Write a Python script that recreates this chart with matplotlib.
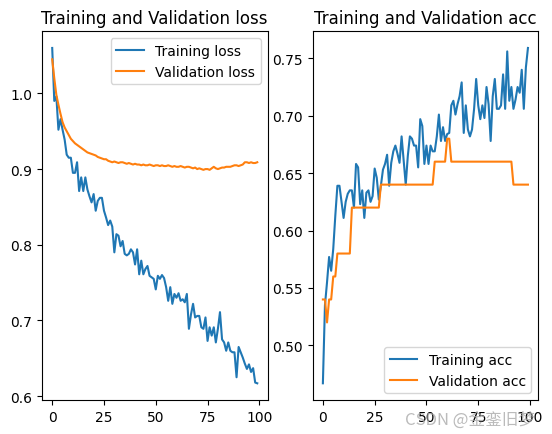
import numpy as np
import matplotlib
matplotlib.use("Agg")
import matplotlib.pyplot as plt

# per-epoch history
train_loss = [1.060, 0.990, 0.996, 0.952, 0.966, 0.952, 0.939, 0.919, 0.915, 0.915,
              0.895, 0.895, 0.909, 0.871, 0.889, 0.871, 0.889, 0.873, 0.864, 0.856,
              0.867, 0.845, 0.858, 0.862, 0.862, 0.845, 0.836, 0.826, 0.832, 0.824,
              0.790, 0.814, 0.812, 0.798, 0.805, 0.788, 0.786, 0.788, 0.794, 0.790,
              0.774, 0.794, 0.761, 0.779, 0.761, 0.768, 0.772, 0.759, 0.757, 0.755,
              0.741, 0.759, 0.755, 0.760, 0.756, 0.744, 0.726, 0.744, 0.722, 0.735,
              0.730, 0.736, 0.726, 0.728, 0.724, 0.735, 0.689, 0.708, 0.722, 0.704,
              0.706, 0.706, 0.691, 0.689, 0.704, 0.673, 0.691, 0.680, 0.691, 0.671,
              0.689, 0.711, 0.675, 0.671, 0.660, 0.671, 0.660, 0.658, 0.658, 0.625,
              0.665, 0.658, 0.651, 0.643, 0.636, 0.642, 0.632, 0.637, 0.618, 0.617]
val_loss = [1.045, 1.020, 0.998, 0.985, 0.973, 0.962, 0.955, 0.950, 0.945, 0.940,
            0.937, 0.934, 0.932, 0.930, 0.928, 0.926, 0.924, 0.922, 0.921, 0.920,
            0.919, 0.918, 0.916, 0.915, 0.914, 0.913, 0.913, 0.911, 0.910, 0.909,
            0.910, 0.909, 0.908, 0.909, 0.909, 0.908, 0.907, 0.908, 0.907, 0.906,
            0.907, 0.906, 0.906, 0.905, 0.906, 0.905, 0.905, 0.906, 0.905, 0.904,
            0.905, 0.905, 0.904, 0.905, 0.904, 0.904, 0.905, 0.904, 0.903, 0.904,
            0.903, 0.903, 0.904, 0.903, 0.902, 0.903, 0.903, 0.902, 0.901, 0.902,
            0.900, 0.901, 0.900, 0.899, 0.900, 0.900, 0.899, 0.901, 0.903, 0.901,
            0.900, 0.901, 0.902, 0.902, 0.903, 0.903, 0.903, 0.904, 0.905, 0.905,
            0.904, 0.905, 0.906, 0.909, 0.909, 0.908, 0.909, 0.908, 0.908, 0.909]
train_acc = [0.467, 0.535, 0.555, 0.577, 0.565, 0.584, 0.613, 0.639, 0.639, 0.625,
             0.611, 0.625, 0.632, 0.635, 0.635, 0.620, 0.658, 0.655, 0.623, 0.635,
             0.611, 0.633, 0.635, 0.625, 0.630, 0.654, 0.646, 0.627, 0.639, 0.653,
             0.658, 0.666, 0.639, 0.659, 0.669, 0.674, 0.667, 0.659, 0.682, 0.661,
             0.640, 0.665, 0.682, 0.680, 0.674, 0.674, 0.655, 0.697, 0.691, 0.658,
             0.674, 0.658, 0.674, 0.669, 0.669, 0.682, 0.701, 0.678, 0.690, 0.678,
             0.684, 0.685, 0.709, 0.713, 0.701, 0.710, 0.717, 0.729, 0.685, 0.709,
             0.688, 0.682, 0.688, 0.706, 0.732, 0.709, 0.697, 0.709, 0.698, 0.725,
             0.710, 0.678, 0.717, 0.732, 0.706, 0.706, 0.709, 0.736, 0.706, 0.756,
             0.713, 0.725, 0.706, 0.714, 0.725, 0.720, 0.740, 0.706, 0.742, 0.759]
val_acc = ([0.54, 0.54, 0.52, 0.54, 0.54, 0.56, 0.56] + [0.58] * 7 + [0.62] * 14
           + [0.64] * 26 + [0.66] * 6 + [0.68] * 2 + [0.66] * 30 + [0.64] * 8)

epochs = np.arange(len(train_loss))

fig = plt.figure(figsize=(5.52, 4.35), dpi=100)
plt.subplots_adjust(left=0.076, right=0.975, bottom=0.078, top=0.926, wspace=0.2)

plt.subplot(1, 2, 1)
plt.plot(epochs, train_loss, label='Training loss')
plt.plot(epochs, val_loss, label='Validation loss')
plt.title('Training and Validation loss')
plt.legend()

plt.subplot(1, 2, 2)
plt.plot(epochs, train_acc, label='Training acc')
plt.plot(epochs, val_acc, label='Validation acc')
plt.title('Training and Validation acc')
plt.legend(loc='lower right')

# csdn watermark
fig.text(0.97, 0.015, 'CSDN @金銮旧梦', ha='right', va='bottom', fontsize=12,
         color='#aaaaaa', alpha=0.8, family=['Noto Sans CJK SC', 'DejaVu Sans'])

plt.savefig('out.png')
